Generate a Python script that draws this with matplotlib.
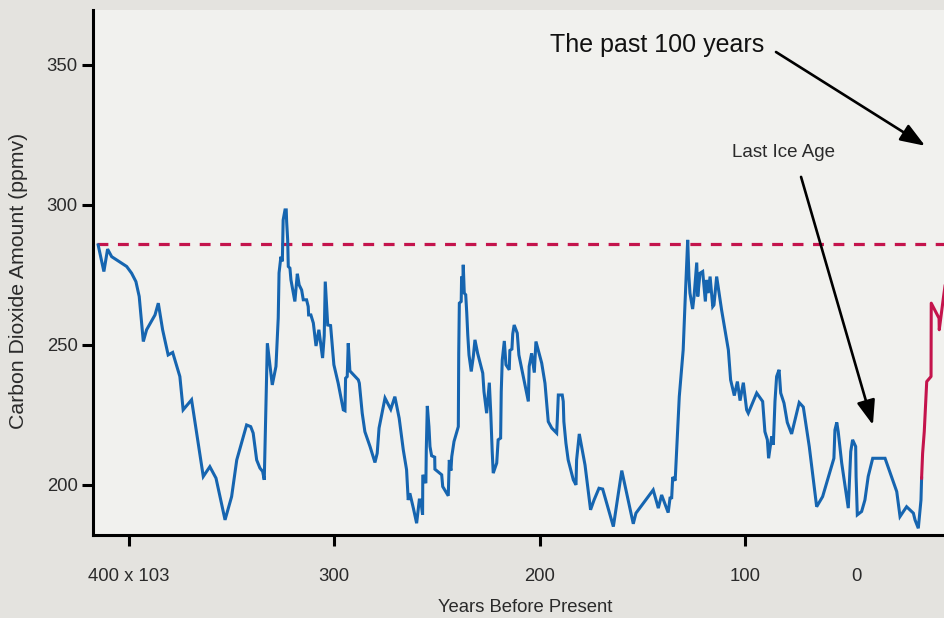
import matplotlib
matplotlib.use("Agg")
import matplotlib.pyplot as plt

plt.rcParams['font.family'] = ['Liberation Sans', 'DejaVu Sans']

# Vostok-style ice core record: age in thousands of years before present, CO2 in ppmv
core_age_kyr = [
    415.0, 412.2, 410.4, 408.4, 401.1, 398.7, 396.6, 395.0, 393.0, 391.4,
    387.3, 385.7, 383.6, 380.9, 378.7, 375.2, 373.6, 369.5, 363.8, 360.6,
    357.6, 353.2, 350.0, 347.5, 342.7, 340.7, 339.5, 337.8, 336.2, 334.9,
    334.1, 332.6, 330.2, 328.4, 327.3, 326.9, 326.0, 325.3, 324.9, 324.0,
    323.4, 323.2, 322.7, 322.4, 321.6, 321.1, 319.2, 318.0, 317.1, 315.9,
    315.1, 313.5, 312.7, 312.5, 311.4, 310.2, 308.9, 307.5, 305.7, 304.9,
    304.4, 303.2, 301.8, 301.1, 300.2, 298.1, 295.6, 294.8, 294.5, 293.7,
    293.2, 292.4, 288.3, 287.8, 286.4, 285.1, 282.6, 280.2, 279.1, 278.2,
    275.3, 272.5, 270.5, 268.4, 266.4, 264.8, 264.0, 263.2, 261.5, 259.9,
    258.6, 257.9, 257.0, 256.9, 255.4, 255.2, 254.7, 253.9, 253.4, 252.6,
    251.1, 251.0, 247.7, 247.2, 244.5, 244.0, 243.2, 242.8, 241.7, 239.6,
    239.4, 239.1, 238.2, 238.0, 237.5, 237.2, 236.7, 236.0, 235.5, 235.0,
    234.4, 233.3, 232.3, 231.5, 230.2, 227.7, 227.1, 225.8, 224.5, 223.8,
    223.1, 222.6, 220.9, 220.2, 219.0, 218.7, 218.2, 217.2, 216.4, 214.8,
    214.5, 213.5, 213.1, 212.4, 210.9, 210.1, 208.3, 205.5, 205.1, 203.9,
    202.6, 201.8, 199.0, 197.4, 195.8, 194.1, 191.7, 191.4, 190.9, 189.0,
    188.5, 188.2, 187.2, 186.1, 183.6, 182.3, 182.0, 180.7, 177.9, 175.2,
    173.5, 171.1, 169.3, 164.1, 160.0, 154.4, 153.1, 144.7, 142.2, 140.6,
    137.4, 136.5, 135.7, 135.2, 134.0, 132.0, 130.1, 129.2, 127.9, 127.3,
    126.8, 125.5, 124.8, 123.5, 123.0, 121.9, 120.6, 119.3, 118.7, 117.9,
    117.0, 115.7, 115.1, 113.8, 111.4, 108.1, 107.0, 105.2, 103.7, 102.4,
    100.8, 99.2, 98.4, 94.3, 91.4, 90.3, 89.1, 88.5, 87.0, 86.2,
    85.4, 84.6, 83.4, 82.6, 81.0, 79.4, 77.3, 73.6, 71.6, 68.7,
    65.1, 62.2, 56.7, 56.2, 55.3, 54.6, 52.9, 49.7, 48.5, 47.6,
    46.1, 45.9, 45.3, 43.2, 41.6, 40.0, 37.8, 31.8, 26.1, 24.5,
    21.3, 18.0, 17.2, 15.6, 14.3, 14.0,
]
core_co2_ppmv = [
    285.7, 276.2, 284.2, 281.5, 278.0, 275.6, 272.6, 267.3, 251.2, 255.4,
    260.7, 264.9, 255.4, 246.4, 247.3, 238.7, 226.8, 230.4, 203.0, 206.5,
    202.4, 187.5, 195.8, 208.9, 221.4, 220.8, 218.5, 208.9, 206.0, 204.8,
    201.8, 250.6, 235.7, 242.3, 259.6, 275.7, 281.5, 279.8, 294.6, 298.2,
    298.2, 294.0, 287.5, 278.0, 277.4, 273.2, 265.5, 275.4, 271.4, 269.6,
    266.1, 266.1, 263.7, 260.7, 260.7, 257.8, 249.6, 255.4, 245.3, 253.2,
    272.6, 257.1, 256.9, 250.6, 242.9, 236.3, 226.8, 226.5, 238.1, 238.7,
    250.6, 240.7, 237.5, 236.3, 225.6, 219.0, 213.7, 208.0, 211.3, 220.3,
    231.0, 227.0, 231.5, 223.8, 212.5, 205.4, 194.6, 197.0, 191.7, 186.3,
    194.6, 194.6, 189.3, 203.6, 200.6, 212.5, 228.2, 220.8, 213.7, 210.4,
    209.9, 205.6, 203.6, 199.4, 196.1, 208.9, 205.1, 210.1, 215.5, 220.8,
    247.0, 264.9, 265.5, 274.4, 268.5, 278.6, 268.5, 267.9, 261.5, 253.6,
    246.4, 240.5, 245.8, 251.8, 247.0, 239.9, 233.3, 225.6, 236.5, 225.6,
    211.9, 204.2, 207.8, 216.1, 216.7, 233.3, 244.6, 251.4, 242.9, 241.1,
    248.0, 248.5, 253.9, 257.1, 254.2, 246.4, 239.9, 229.8, 242.3, 247.0,
    240.1, 251.2, 243.5, 236.3, 222.6, 220.3, 218.5, 223.2, 232.1, 232.1,
    229.8, 222.6, 214.9, 208.9, 201.8, 200.0, 208.9, 218.2, 207.1, 191.1,
    194.6, 198.8, 198.5, 185.1, 205.1, 186.1, 189.9, 198.2, 191.7, 196.4,
    190.1, 195.3, 195.4, 202.8, 201.5, 231.5, 248.2, 264.9, 287.5, 274.4,
    268.5, 262.8, 267.3, 279.4, 267.3, 275.6, 276.2, 265.5, 273.2, 268.5,
    274.4, 263.7, 264.3, 274.4, 262.5, 248.2, 237.5, 231.9, 236.9, 230.1,
    236.5, 226.8, 225.6, 232.8, 229.8, 219.0, 216.1, 209.5, 217.3, 214.3,
    229.8, 238.7, 241.1, 232.8, 229.2, 222.3, 218.2, 229.4, 227.8, 213.7,
    192.2, 195.8, 209.5, 219.6, 222.3, 219.0, 207.8, 191.7, 211.9, 216.1,
    213.7, 203.0, 189.3, 190.5, 194.6, 203.0, 209.5, 209.5, 197.6, 188.7,
    192.2, 189.9, 187.5, 184.5, 194.6, 202.4,
]

# The past century, drawn compressed at the right-hand edge
recent_age_kyr = [14.0, 13.5, 12.7, 11.5, 9.4, 9.3, 5.5, 5.4, 3.4, 2.6]
recent_co2_ppmv = [202.4, 211.3, 219.0, 236.9, 238.7, 264.9, 259.5, 255.4, 266.7, 271.0]

# Highest natural level, shown as a reference line
natural_max_ppmv = 286.0

x_ticks = [400, 300, 200, 100, 45.9]
x_tick_labels = ["400 x 103", "300", "200", "100", "0"]
y_ticks = [200, 250, 300, 350]

OUTER_BG = "#e4e3df"
PLOT_BG = "#f1f1ee"
BLUE = "#1665b0"
CRIMSON = "#c4144c"
TEXT = "#2a2a2a"

fig = plt.figure(figsize=(9.45, 6.18), dpi=100, facecolor=OUTER_BG)
ax = fig.add_axes([93 / 945, 83 / 618, 852 / 945, 525 / 618], facecolor=PLOT_BG)

ax.set_xlim(417.5, 2.6)
ax.set_ylim(182.1, 369.6)

ax.axhline(natural_max_ppmv, xmin=0.005, xmax=1.0, color=CRIMSON, lw=2.3,
           dashes=(3.4, 3.0), zorder=2)
ax.plot(core_age_kyr, core_co2_ppmv, color=BLUE, lw=2.2, solid_joinstyle='miter', zorder=3)
ax.plot(recent_age_kyr, recent_co2_ppmv, color=CRIMSON, lw=2.2, zorder=3, clip_on=True)

for side in ("top", "right"):
    ax.spines[side].set_visible(False)
for side in ("left", "bottom"):
    ax.spines[side].set_linewidth(2.2)
    ax.spines[side].set_color("black")

ax.set_yticks(y_ticks)
ax.set_yticklabels([str(v) for v in y_ticks])
ax.set_xticks(x_ticks)
ax.set_xticklabels(x_tick_labels)
ax.tick_params(axis='both', direction='out', length=8, width=2.2, color='black',
               labelsize=13.3, labelcolor=TEXT)
ax.tick_params(axis='x', pad=16)
ax.tick_params(axis='y', pad=3)
ax.xaxis.get_major_ticks()[-1].tick1line.set_visible(False)

ax.set_xlabel("Years Before Present", fontsize=13.3, color=TEXT)
ax.xaxis.set_label_coords(0.507, -0.138)
ax.xaxis.label.set_verticalalignment('center')
ax.set_ylabel("Carbon Dioxide Amount (ppmv)", fontsize=15.3, color=TEXT)
ax.yaxis.set_label_coords(-0.088, 0.484)
ax.yaxis.label.set_verticalalignment('center')

arrow_kw = dict(arrowstyle='-|>,head_length=0.75,head_width=0.28', color='black',
                lw=1.9, mutation_scale=20, shrinkA=0, shrinkB=0)
ax.annotate("", xy=(12.3, 321.1), xytext=(84.9, 354.6), arrowprops=arrow_kw,
            annotation_clip=False)
ax.text(195.0, 357.1, "The past 100 years", fontsize=18, color='#111111',
        ha='left', va='center')

ax.annotate("", xy=(37.7, 221.4), xytext=(72.7, 310.0), arrowprops=arrow_kw)
ax.text(106.3, 318.6, "Last Ice Age", fontsize=13.5, color=TEXT, ha='left', va='center')

fig.savefig("out.png", dpi=100, facecolor=OUTER_BG)
